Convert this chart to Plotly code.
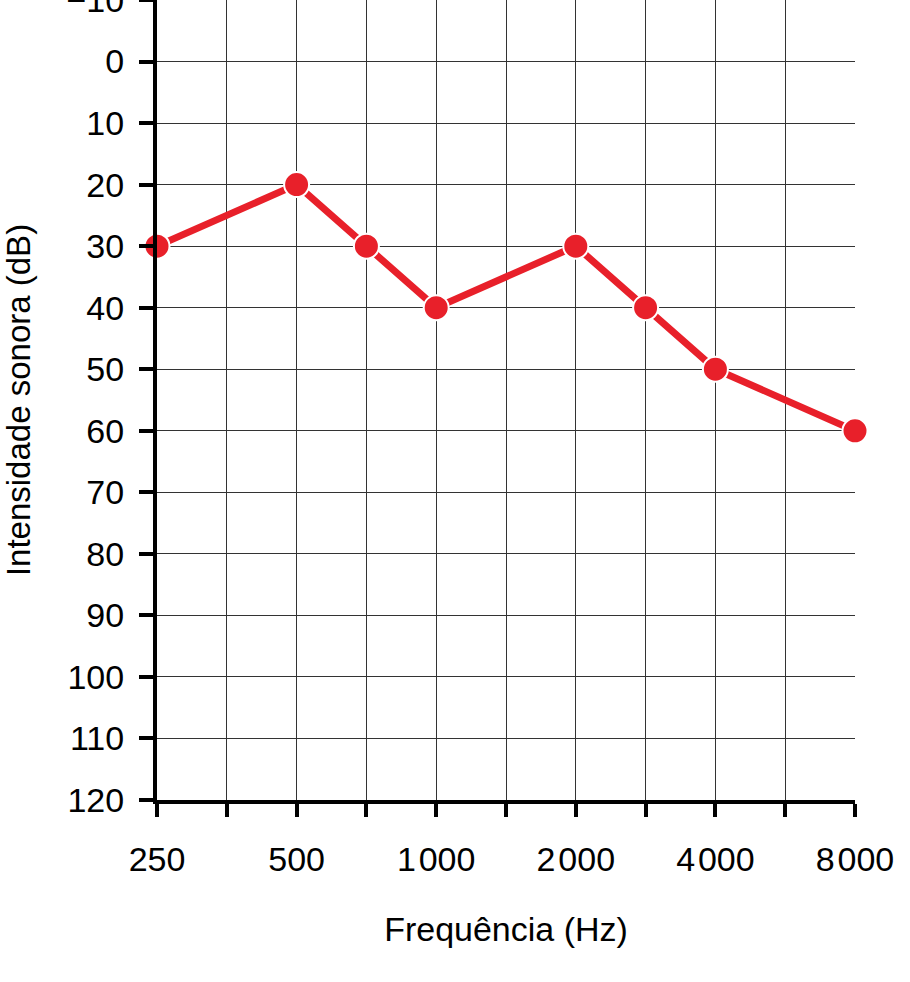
import plotly.graph_objs as go

# audiograma: colunas em meia oitava, so as oitavas tem rotulo
colunas = ["250", "354", "500", "750", "1000", "1500", "2000", "3000", "4000", "6000", "8000"]
rotulos = ["250", "", "500", "", "1\u200a000", "", "2\u200a000", "", "4\u200a000", "", "8\u200a000"]

freq = ["250", "500", "750", "1000", "2000", "3000", "4000", "8000"]
intensidade = [30, 20, 30, 40, 30, 40, 50, 60]

y_ticks = list(range(-10, 121, 10))
y_rotulos = ["\u221210"] + [str(v) for v in y_ticks[1:]]

vermelho = "#e8202a"
fonte = "Arial, Liberation Sans, sans-serif"

fig = go.Figure(data=[go.Scatter(
    x=freq, y=intensidade, mode="lines+markers",
    line=dict(color=vermelho, width=7),
    marker=dict(color=vermelho, size=25, line=dict(color="white", width=2)),
    cliponaxis=False)])

fig.update_layout(
    width=910, height=982,
    margin=dict(l=157, r=55, t=0, b=182, autoexpand=False),
    plot_bgcolor="white", paper_bgcolor="white",
    showlegend=False,
    font=dict(family=fonte, size=34, color="black"))

fig.update_xaxes(
    type="category", categoryorder="array", categoryarray=colunas,
    range=[0, 10], automargin=False,
    tickmode="array", tickvals=colunas, ticktext=rotulos,
    ticks="outside", ticklen=13, tickwidth=4, tickcolor="black",
    showline=True, linewidth=4, linecolor="black",
    showgrid=True, gridcolor="#333333", gridwidth=1,
    ticklabelstandoff=13,
    title=dict(text="Frequência (Hz)", standoff=41, font=dict(size=34)),
    zeroline=False, fixedrange=True)

fig.update_yaxes(
    range=[120, -10], automargin=False,
    tickmode="array", tickvals=y_ticks, ticktext=y_rotulos,
    ticklabeloverflow="allow",
    ticks="outside", ticklen=14, tickwidth=4, tickcolor="black",
    showline=True, linewidth=4, linecolor="black",
    showgrid=True, gridcolor="#333333", gridwidth=1,
    ticklabelstandoff=8,
    title=dict(text="Intensidade sonora (dB)", standoff=32, font=dict(size=33)),
    zeroline=False, fixedrange=True)

# sem margem do body, o grafico fica colado no topo da janela
fig.write_html("out.html", config={"displayModeBar": False},
               post_script="document.body.style.margin='0';")
